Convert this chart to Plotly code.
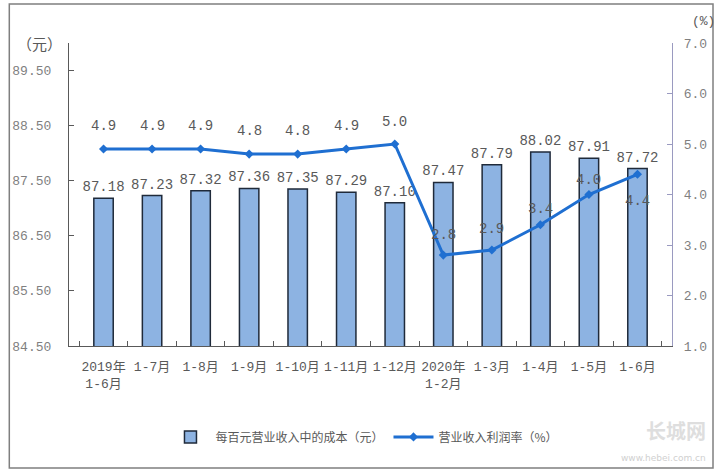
import plotly.graph_objects as go

categories = ["2019年<br>1-6月", "1-7月", "1-8月", "1-9月", "1-10月", "1-11月", "1-12月",
              "2020年<br>1-2月", "1-3月", "1-4月", "1-5月", "1-6月"]
cost_per_100 = [87.18, 87.23, 87.32, 87.36, 87.35, 87.29, 87.10, 87.47, 87.79, 88.02, 87.91, 87.72]
profit_rate = [4.9, 4.9, 4.9, 4.8, 4.8, 4.9, 5.0, 2.8, 2.9, 3.4, 4.0, 4.4]
rate_label_shift = [23, 23, 23, 23, 23, 23, 22, 20, 21, 16, 15, -27]

left_ticks = [84.5, 85.5, 86.5, 87.5, 88.5, 89.5]
right_ticks = [1.0, 2.0, 3.0, 4.0, 5.0, 6.0, 7.0]

num_font = dict(family="Liberation Mono, Noto Sans CJK SC", size=14, color="#595959")

fig = go.Figure()
fig.add_trace(go.Bar(
    x=categories, y=cost_per_100, name="每百元营业收入中的成本（元）",
    marker=dict(color="#8db3e2", line=dict(color="#1f2a3a", width=1.5)),
    width=0.4,
    text=[f"{v:.2f}" for v in cost_per_100], textposition="outside",
    textfont=num_font, cliponaxis=False, constraintext="none",
))
fig.add_trace(go.Scatter(
    x=categories, y=profit_rate, name="营业收入利润率（%）", yaxis="y2",
    mode="lines+markers",
    line=dict(color="#1f6fd1", width=3),
    marker=dict(symbol="diamond", size=7, color="#1f6fd1"),
))

for c, v, s in zip(categories, profit_rate, rate_label_shift):
    fig.add_annotation(x=c, y=v, yref="y2", text=f"{v:.1f}", showarrow=False,
                       yshift=s, font=num_font)

fig.add_annotation(xref="paper", yref="paper", x=-0.008, y=1.0, text="（元）", showarrow=False,
                   xanchor="right", yanchor="middle",
                   font=dict(family="Noto Sans CJK SC", size=15, color="#595959"))
fig.add_annotation(xref="paper", yref="paper", x=1.03, y=1.07, text="(%)", showarrow=False,
                   xanchor="left", yanchor="middle",
                   font=dict(family="Liberation Mono, Noto Sans CJK SC", size=13, color="#595959"))

# watermark
fig.add_annotation(xref="paper", yref="paper", x=1.06, y=-0.28, text="<b>长城网</b>", showarrow=False,
                   xanchor="right", yanchor="middle",
                   font=dict(family="Noto Sans CJK SC", size=20, color="#dedede"))
fig.add_annotation(xref="paper", yref="paper", x=1.06, y=-0.37, text="www.hebei.com.cn", showarrow=False,
                   xanchor="right", yanchor="middle",
                   font=dict(family="DejaVu Sans", size=9, color="#d0d0d0"))

fig.add_shape(type="rect", xref="paper", yref="paper", x0=-0.099, x1=1.068, y0=-0.403, y1=1.129,
              line=dict(color="#7f7f7f", width=1.5), layer="below")

fig.update_layout(
    width=720, height=475,
    margin=dict(l=67, r=48, t=43, b=129),
    paper_bgcolor="white", plot_bgcolor="white",
    showlegend=True,
    legend=dict(orientation="h", x=0.49, xanchor="center", y=-0.30, yanchor="middle",
                font=dict(family="Noto Sans CJK SC", size=12, color="#595959"),
                itemwidth=40),
    bargap=0.6,
    xaxis=dict(showline=True, linecolor="#595959", linewidth=1.2, ticks="inside",
               tickson="boundaries", ticklen=5, tickcolor="#595959", tickangle=0,
               ticklabelstandoff=8,
               tickfont=dict(family="Liberation Mono, Noto Sans CJK SC", size=13, color="#595959"),
               showgrid=False),
    yaxis=dict(range=[84.5, 90.0], tickvals=left_ticks, ticktext=[f"{t:.2f}" for t in left_ticks],
               showline=True, linecolor="#595959", linewidth=1.2, ticks="inside", ticklen=5,
               tickcolor="#595959", showgrid=False, zeroline=False, ticklabelstandoff=14,
               tickfont=dict(family="Liberation Mono, Noto Sans CJK SC", size=13, color="#7f7f7f")),
    yaxis2=dict(range=[1.0, 7.0], tickvals=right_ticks, ticktext=[f"{t:.1f}" for t in right_ticks],
                overlaying="y", side="right", showline=True, linecolor="#9a9ac0", linewidth=1.2,
                ticks="inside", ticklen=5, tickcolor="#9a9ac0", showgrid=False, zeroline=False,
                ticklabelstandoff=8,
                tickfont=dict(family="Liberation Mono, Noto Sans CJK SC", size=13, color="#7f7f7f")),
)

fig.write_html("out.html")
